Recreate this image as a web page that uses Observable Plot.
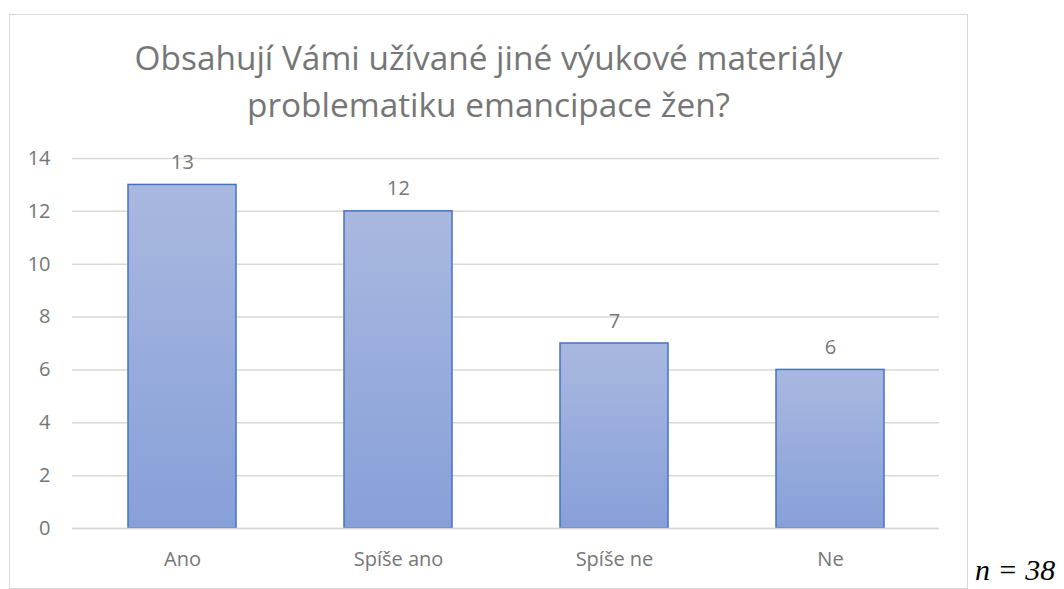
<!DOCTYPE html>
<html>
<head>
<meta charset="utf-8">
<script src="https://cdn.jsdelivr.net/npm/d3@7"></script>
<script src="https://cdn.jsdelivr.net/npm/@observablehq/plot@0.6"></script>
<style>
  html, body { margin: 0; padding: 0; background: #fff; }
  #wrap { position: relative; width: 1064px; height: 589px; overflow: hidden; font-family: "Open Sans", sans-serif; }
  #frame { position: absolute; left: 9px; top: 14px; width: 959px; height: 575px; border: 1.5px solid #d9d9d9; box-sizing: border-box; pointer-events: none; }
  #title { position: absolute; left: 9px; width: 959px; top: 34px; text-align: center; color: #767676; font-size: 33.4px; line-height: 47px; margin: 0; font-weight: 400; }
  #chart { position: absolute; left: 0; top: 140px; }
  #note { position: absolute; left: 975px; top: 553px; font-family: "Liberation Serif", "Times New Roman", serif; font-style: italic; font-size: 30px; line-height: 34px; color: #000; white-space: nowrap; }
</style>
</head>
<body>
<div id="wrap">
  <div id="frame"></div>
  <h1 id="title">Obsahují Vámi užívané jiné výukové materiály<br>problematiku emancipace žen?</h1>
  <div id="chart"></div>
  <div id="note">n = 38</div>
</div>
<script>
const categories = ["Ano", "Spíše ano", "Spíše ne", "Ne"];
const counts = [13, 12, 7, 6];
const yTicks = [0, 2, 4, 6, 8, 10, 12, 14];

const data = categories.map((c, i) => ({category: c, count: counts[i]}));

const chart = Plot.plot({
  width: 1064,
  height: 449,
  marginLeft: 72,
  marginRight: 125,
  marginTop: 18,
  marginBottom: 61,
  style: {fontFamily: "'Open Sans', sans-serif", fontSize: "20px", color: "#767676", background: "transparent"},
  x: {domain: categories, paddingInner: 0.5, paddingOuter: 0.25, label: null},
  y: {domain: [0, 14], label: null},
  marks: [
    Plot.gridY(yTicks, {stroke: "#d9d9d9", strokeOpacity: 1, strokeWidth: 1.5}),
    Plot.barY(data, {x: "category", y: "count", fill: "url(#barGrad)", stroke: "#4472c4", strokeWidth: 1.5}),
    Plot.ruleY([0], {stroke: "#d9d9d9", strokeWidth: 1.5}),
    Plot.text(data, {x: "category", y: "count", text: d => String(d.count), dy: -16, lineAnchor: "bottom", fill: "#767676", fontSize: 20}),
    Plot.axisY(yTicks, {tickSize: 0, tickPadding: 22, label: null, fill: "#767676", fontSize: 20}),
    Plot.axisX({tickSize: 0, tickPadding: 23, label: null, fill: "#767676", fontSize: 20})
  ]
});

const ns = "http://www.w3.org/2000/svg";
const defs = document.createElementNS(ns, "defs");
const grad = document.createElementNS(ns, "linearGradient");
grad.setAttribute("id", "barGrad");
grad.setAttribute("x1", "0"); grad.setAttribute("y1", "0");
grad.setAttribute("x2", "0"); grad.setAttribute("y2", "1");
[["0%", "#a9b8e0"], ["100%", "#87a0d8"]].forEach(([o, c]) => {
  const s = document.createElementNS(ns, "stop");
  s.setAttribute("offset", o);
  s.setAttribute("stop-color", c);
  grad.appendChild(s);
});
defs.appendChild(grad);
chart.insertBefore(defs, chart.firstChild);

document.getElementById("chart").appendChild(chart);
</script>
</body>
</html>
